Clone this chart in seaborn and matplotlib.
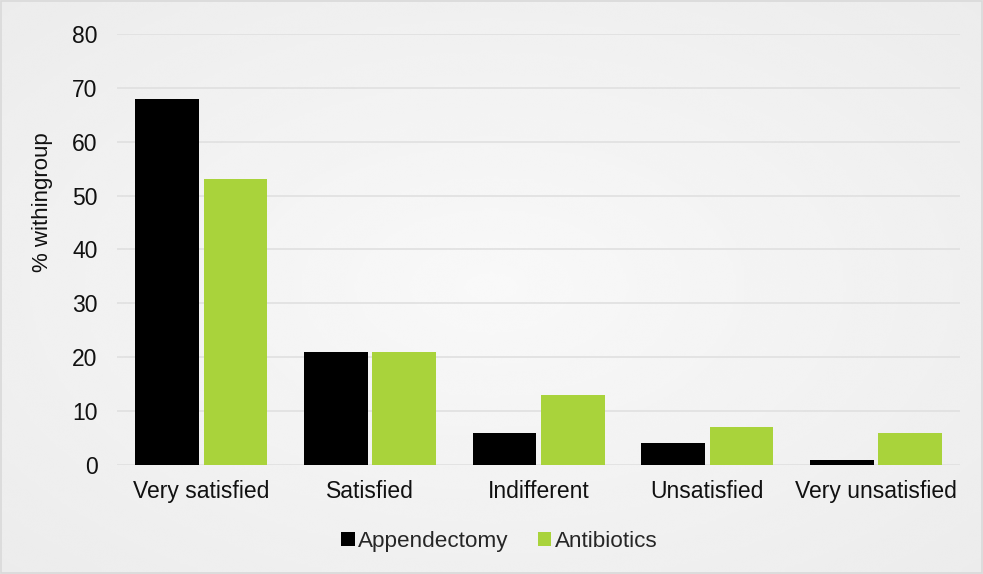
import numpy as np
import pandas as pd
import matplotlib.pyplot as plt
import seaborn as sns

categories = ['Very satisfied', 'Satisfied', 'Indifferent', 'Unsatisfied', 'Very unsatisfied']
appendectomy = [68, 21, 6, 4, 1]
antibiotics = [53, 21, 13, 7, 6]
groups = ['Appendectomy', 'Antibiotics']
colors = ['#000000', '#a9d33b']

df = pd.DataFrame({
    'category': categories * 2,
    'group': [groups[0]] * len(categories) + [groups[1]] * len(categories),
    'value': appendectomy + antibiotics,
})

sns.set_theme(style='white')
plt.rcParams['font.family'] = ['Liberation Sans', 'DejaVu Sans']

fig = plt.figure(figsize=(9.83, 5.74), dpi=100)

# soft radial gradient background like the original chart area
bg = fig.add_axes([0, 0, 1, 1], zorder=-10)
yy, xx = np.mgrid[-1:1:200j, -1:1:340j]
r = np.sqrt(xx ** 2 + yy ** 2) / np.sqrt(2)
bg.imshow(0.975 - 0.05 * r, cmap='gray', vmin=0, vmax=1, aspect='auto',
          extent=[0, 1, 0, 1], interpolation='bicubic')
bg.set_axis_off()
fig.patches.append(plt.Rectangle((0.001, 0.002), 0.998, 0.996, transform=fig.transFigure,
                                 fill=False, edgecolor='#d9d9d9', linewidth=1.2))

ax = fig.add_axes([0.119, 0.19, 0.858, 0.751])
ax.patch.set_alpha(0)
sns.barplot(data=df, x='category', y='value', hue='group', palette=colors,
            width=0.81, gap=0.07, saturation=1, linewidth=0, ax=ax, zorder=3)

ax.set_ylim(0, 80)
ax.set_yticks(range(0, 81, 10))
ax.set_xlim(-0.5, len(categories) - 0.5)
ax.grid(axis='y', color='#e0e0e0', linewidth=1.2, zorder=0)
ax.set_axisbelow(True)
for s in ax.spines.values():
    s.set_visible(False)
ax.tick_params(axis='both', length=0, labelsize=16.5, colors='#111111')
ax.tick_params(axis='y', pad=14)
ax.tick_params(axis='x', pad=11)
ax.set_xlabel('')
ax.set_ylabel('% withingroup', fontsize=16, color='#111111')
ax.yaxis.set_label_coords(-0.076, 0.61)

ax.legend(loc='center', bbox_to_anchor=(0.508, 0.057), bbox_transform=fig.transFigure,
          ncol=2, frameon=False, fontsize=16.2, handlelength=0.6, handleheight=0.6,
          handletextpad=0.15, columnspacing=1.3)

fig.savefig('out.png', dpi=100)
